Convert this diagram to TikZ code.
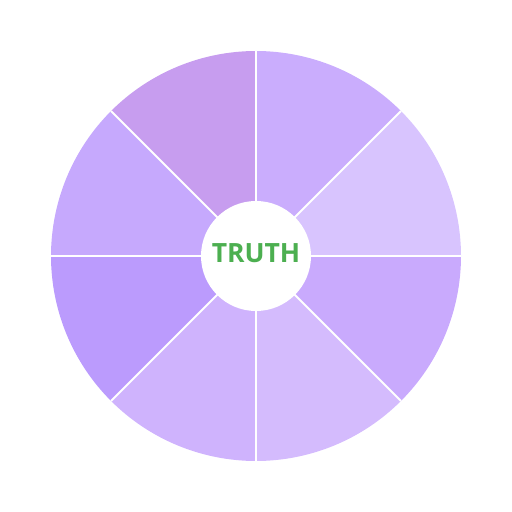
\documentclass[tikz,border=0pt]{standalone}
\usepackage{fontspec}
\setmainfont{Open Sans}
\definecolor{wA}{HTML}{D8C4FE}
\definecolor{wB}{HTML}{CAADFD}
\definecolor{wC}{HTML}{C79DEF}
\definecolor{wD}{HTML}{C6A9FD}
\definecolor{wE}{HTML}{BB9BFD}
\definecolor{wF}{HTML}{CFB3FD}
\definecolor{wG}{HTML}{D4BBFD}
\definecolor{wH}{HTML}{C9AAFD}
\definecolor{tgreen}{HTML}{4CAF50}
\tikzset{sep/.style={draw=white, line width=1.8pt}}
\begin{document}
\begin{tikzpicture}[x=1pt,y=1pt]
\useasboundingbox (0,0) rectangle (512,512);
\coordinate (c) at (256,256);
\foreach \a/\col in {0/wA,45/wB,90/wC,135/wD,180/wE,225/wF,270/wG,315/wH}{
  \fill[\col] (c) -- ++(\a:205) arc[start angle=\a, end angle=\a+45, radius=205] -- cycle;
}
\foreach \a in {0,45,...,315}{
  \draw[sep] (c) -- ++(\a:205);
}
\node[circle, fill=white, minimum size=110pt, inner sep=0pt] (hub) at (c) {};
\node[text=tgreen, font=\fontsize{26.5}{30}\selectfont\bfseries, inner sep=0pt] (truth) at (256,258.5) {TRUTH};
\end{tikzpicture}
\end{document}
